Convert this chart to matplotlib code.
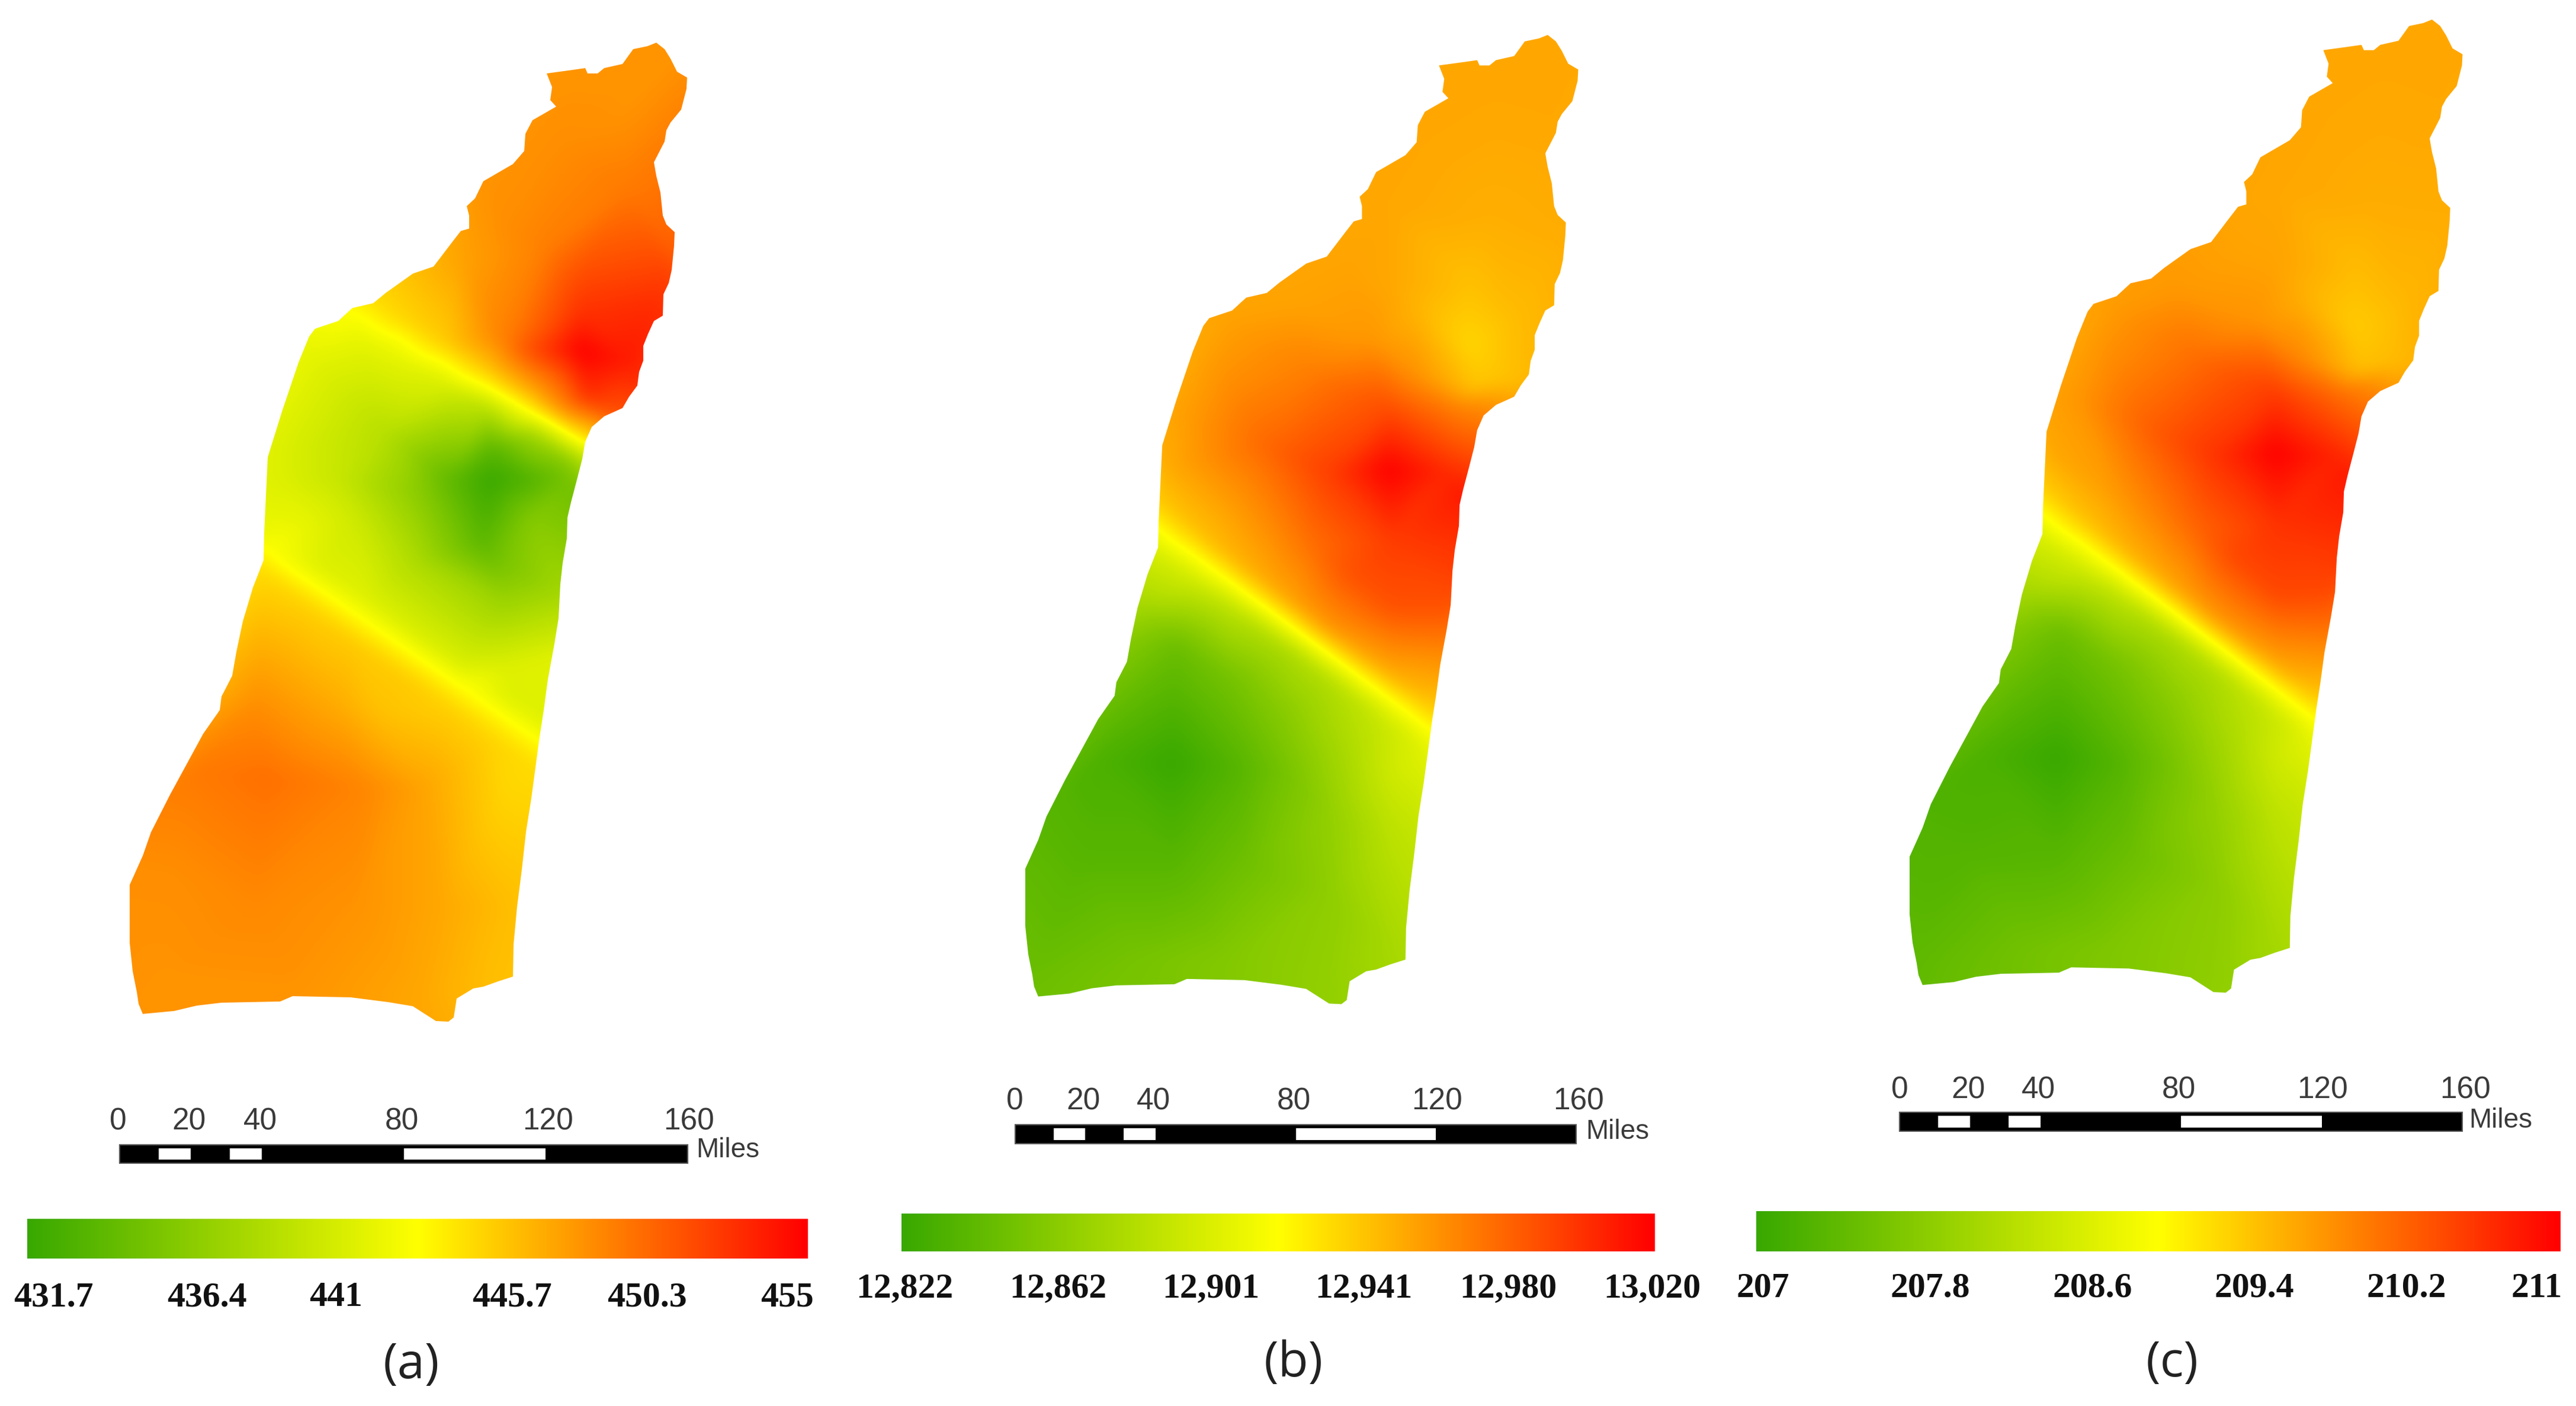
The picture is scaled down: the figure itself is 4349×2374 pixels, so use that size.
import numpy as np
import matplotlib
matplotlib.use("Agg")
import matplotlib.pyplot as plt
import matplotlib.tri as mtri
from matplotlib.colors import LinearSegmentedColormap
from matplotlib.patches import Polygon, Rectangle

W, H = 4349, 2374

# region outline, pixels of panel (a)
outline_x = [1108, 1122, 1132, 1143, 1160, 1159, 1150, 1132, 1125, 1122, 1104, 1108, 1115, 1119, 1125, 1139, 1138, 1134,
             1129, 1120, 1119, 1104, 1094, 1086, 1086, 1079, 1076, 1062, 1051, 1020, 999, 988, 983, 974, 964, 958, 957,
             950, 946, 943, 936, 925, 918, 911, 904, 897, 888, 881, 873, 867, 866, 841, 816, 799, 771, 766, 757, 736,
             697, 655, 592, 494, 473, 374, 332, 294, 241, 234, 231, 224, 219, 219, 241, 255, 287, 318, 343, 371, 374,
             392, 399, 410, 427, 445, 446, 452, 476, 504, 522, 532, 571, 595, 630, 652, 697, 732, 764, 778, 792, 792,
             788, 802, 816, 866, 885, 887, 899, 939, 929, 932, 923, 967, 988, 992, 1009, 1020, 1051, 1069, 1093]
outline_y = [72, 83, 99, 121, 131, 150, 185, 207, 220, 239, 274, 297, 325, 364, 379, 392, 415, 456,
             478, 497, 533, 542, 564, 584, 609, 628, 651, 670, 689, 703, 721, 746, 775, 810, 848, 874, 909,
             950, 986, 1044, 1087, 1147, 1199, 1244, 1296, 1348, 1405, 1468, 1531, 1595, 1649, 1657, 1666, 1669, 1686, 1718, 1725, 1724,
             1699, 1692, 1684, 1682, 1691, 1693, 1698, 1707, 1712, 1695, 1675, 1640, 1592, 1494, 1445, 1405, 1342, 1285, 1239, 1199, 1176,
             1141, 1101, 1049, 992, 946, 900, 772, 695, 612, 568, 555, 542, 520, 512, 494, 462, 450, 408, 390, 386, 364,
             348, 335, 306, 277, 255, 226, 203, 180, 169, 147, 124, 118, 115, 124, 124, 115, 108, 83, 78]

# field samples: x, y in pixels, t = place on the colour ramp (0 green, 1 red)
a_x = [1110, 1050, 950, 1062, 1062, 992, 922, 851, 781, 1122, 1111, 1062, 981, 908, 851, 981, 992, 1027,
       606, 680, 750, 820, 900, 988,
       606, 680, 750, 820, 900, 950,
       606, 680, 750, 820, 900, 960,
       520, 465, 450, 455,
       830, 711, 571, 466, 957, 830, 816, 900, 760, 650, 900, 851, 950, 851, 940, 851, 700, 600, 520,
       452, 540, 620, 700, 780, 860, 901,
       452, 540, 620, 700, 780, 860, 930,
       440, 520, 600, 680, 760, 840, 900,
       452, 641, 571, 431, 851, 711, 606, 851, 746, 606, 431, 290, 290, 501, 711, 816, 325,
       1200, 950, 780, 1200, 1150, 1050, 400, 1000, 1000, 950, 780, 180, 150, 300, 400, 500, 1060, 960]
a_y = [100, 150, 240, 191, 319, 446, 415, 383, 446, 446, 510, 606, 593, 593, 574, 523, 670, 695,
       529, 572, 612, 652, 698, 749,
       494, 537, 577, 617, 663, 690,
       564, 607, 647, 687, 733, 780,
       600, 750, 850, 900,
       810, 829, 810, 810, 810, 752, 917, 810, 810, 730, 880, 957, 1000, 1015, 1060, 1130, 950, 880, 880,
       934, 995, 1050, 1105, 1160, 1216, 1244,
       899, 960, 1015, 1070, 1125, 1181, 1225,
       960, 1025, 1085, 1140, 1195, 1250, 1290,
       1313, 1200, 1187, 1187, 1330, 1330, 1330, 1531, 1531, 1531, 1531, 1474, 1646, 1669, 1686, 1658, 1302,
       50, 50, 250, 500, 750, 850, 800, 1100, 1300, 1700, 1780, 1780, 1450, 1150, 900, 470, 790, 1280]
a_t = [.71, .71, .72, .71, .76, .84, .75, .72, .68, .86, .91, .95, 1, .87, .75, .90, .90, .84,
       .50, .50, .50, .50, .50, .50,
       .56, .58, .60, .62, .66, .72,
       .45, .44, .41, .33, .27, .20,
       .44, .42, .43, .47,
       0, .20, .36, .42, .15, .10, .09, .07, .10, .32, .20, .17, .27, .25, .35, .42, .30, .38, .44,
       .50, .50, .50, .50, .50, .50, .50,
       .44, .42, .42, .41, .41, .42, .42,
       .57, .59, .60, .60, .59, .58, .57,
       .78, .62, .66, .72, .58, .68, .74, .63, .67, .71, .73, .72, .71, .71, .67, .63, .76,
       .71, .70, .70, .85, .80, .12, .43, .43, .56, .60, .66, .71, .72, .60, .50, .50, .50, .50]

# (b) and (c) samples are read in crop coordinates, scaled to pixels below
b_zx = [1350, 1250, 1100, 1000, 900, 1400, 1420, 1185, 1185, 1300, 1100, 1200, 1060, 1230, 1350, 1300, 1000, 950, 1050, 1150,
        990, 1130, 850, 990, 1000, 1170, 1130, 900, 800, 700, 600, 1000, 1130, 700, 800, 1100, 600, 500, 450, 600, 520, 750,
        430, 520, 600, 680, 760, 840, 920, 1000, 1090,
        430, 520, 600, 680, 760, 840, 920, 1000, 1090,
        430, 520, 600, 680, 760, 840, 920, 1000, 1090,
        390, 480, 620, 760, 900, 1000, 1050,
        470, 300, 620, 470, 733, 850, 1000,
        150, 130, 400, 600, 850, 1000, 850, 650, 250,
        1500, 1100, 800, 1500, 1250, 1180, 1150, 1100, 600, 50, 50, 250, 350, 380, 500]
b_zy = [30, 120, 180, 280, 380, 150, 320, 490, 400, 450, 430, 560, 450, 300, 480, 550, 400, 480, 540, 590,
        685, 690, 690, 590, 800, 720, 900, 850, 800, 780, 750, 900, 960, 650, 530, 600, 550, 600, 680, 450, 500, 430,
        775, 818, 856, 894, 932, 970, 1008, 1046, 1090,
        735, 778, 816, 854, 892, 930, 968, 1006, 1050,
        815, 858, 896, 934, 972, 1010, 1048, 1086, 1130,
        900, 960, 1010, 1060, 1120, 1160, 1220,
        1140, 1140, 1150, 1300, 1156, 1220, 1260,
        1320, 1480, 1450, 1450, 1480, 1430, 1350, 1300, 1300,
        0, 0, 300, 500, 750, 1120, 1400, 1600, 1600, 1600, 1250, 950, 737, 600, 350]
b_t = [.67, .67, .67, .67, .68, .67, .66, .58, .62, .63, .63, .62, .65, .655, .64, .63, .67, .70, .72, .75,
       1, .92, .88, .85, .88, .95, .84, .84, .78, .72, .68, .84, .75, .80, .75, .80, .72, .69, .66, .68, .67, .68,
       .50, .50, .50, .50, .50, .50, .50, .50, .50,
       .60, .62, .64, .66, .68, .70, .68, .66, .62,
       .40, .38, .34, .31, .30, .31, .34, .38, .43,
       .27, .13, .16, .22, .30, .38, .36,
       0, .05, .07, .08, .15, .23, .33,
       .10, .13, .16, .19, .23, .28, .22, .14, .08,
       .67, .67, .67, .65, .95, .50, .34, .28, .19, .14, .10, .25, .50, .65, .67]

c_zx = [1350, 1250, 1100, 1000, 900, 1400, 1410, 1180, 1180, 1300, 1090, 1190, 1050, 1220, 1340, 1290, 990, 940, 1040, 1140,
        985, 1130, 840, 985, 995, 1160, 1120, 890, 790, 690, 590, 990, 1120, 690, 790, 1090, 590, 500, 440, 590, 520, 740,
        425, 520, 600, 680, 760, 840, 920, 1000, 1070,
        425, 520, 600, 680, 760, 840, 920, 1000, 1070,
        425, 520, 600, 680, 760, 840, 920, 1000, 1070,
        380, 470, 610, 750, 890, 990, 1040,
        460, 290, 610, 460, 723, 840, 990,
        140, 120, 390, 590, 850, 990, 840, 640, 240,
        1500, 1100, 790, 1490, 1240, 1170, 1140, 1090, 590, 40, 40, 240, 340, 370, 490]
c_zy = [50, 130, 200, 300, 400, 170, 340, 510, 420, 470, 450, 580, 470, 320, 500, 570, 420, 500, 560, 610,
        705, 710, 710, 610, 820, 740, 920, 870, 820, 800, 770, 925, 985, 670, 550, 620, 570, 620, 700, 470, 520, 450,
        800, 846, 885, 924, 963, 1002, 1041, 1080, 1115,
        760, 806, 845, 884, 923, 962, 1001, 1040, 1075,
        840, 886, 925, 964, 1003, 1042, 1081, 1120, 1155,
        925, 985, 1035, 1085, 1145, 1185, 1245,
        1180, 1180, 1190, 1340, 1190, 1250, 1290,
        1350, 1500, 1480, 1480, 1510, 1460, 1380, 1330, 1330,
        20, 20, 320, 520, 770, 1145, 1430, 1620, 1620, 1620, 1280, 980, 760, 620, 370]
c_t = [.67, .67, .67, .67, .68, .67, .66, .60, .63, .64, .64, .63, .66, .66, .65, .64, .68, .71, .74, .78,
       1, .93, .90, .88, .90, .95, .86, .86, .80, .74, .69, .86, .77, .82, .78, .83, .73, .70, .67, .69, .68, .70,
       .50, .50, .50, .50, .50, .50, .50, .50, .50,
       .60, .62, .64, .66, .68, .70, .69, .67, .63,
       .40, .38, .34, .31, .30, .31, .34, .38, .43,
       .27, .13, .16, .22, .30, .38, .36,
       0, .05, .07, .08, .15, .23, .33,
       .07, .10, .15, .18, .22, .28, .21, .13, .07,
       .67, .67, .68, .66, .95, .50, .34, .28, .18, .10, .07, .24, .50, .66, .68]

# colour ramp stops from the legends
ramp_colors = ["#38A800", "#FFFF00", "#FF0000"]

a_ticks = ["431.7", "436.4", "441", "445.7", "450.3", "455"]
b_ticks = ["12,822", "12,862", "12,901", "12,941", "12,980", "13,020"]
c_ticks = ["207", "207.8", "208.6", "209.4", "210.2", "211"]
a_range = (431.7, 455)
b_range = (12822, 13020)
c_range = (207, 211)

scale_labels = ["0", "20", "40", "80", "120", "160"]
scale_stops = [0, 11, 20, 31, 40, 80, 120, 160]

cmap = LinearSegmentedColormap.from_list("ramp", ramp_colors, N=512)

fig = plt.figure(figsize=(W / 100, H / 100), dpi=100, facecolor="white")
ax = fig.add_axes([0, 0, 1, 1])


def blur(z, n):
    k = np.ones(n) / n
    p = n // 2
    z = np.apply_along_axis(lambda r: np.convolve(np.pad(r, p, mode="edge"), k, mode="valid"), 0, z)
    return np.apply_along_axis(lambda r: np.convolve(np.pad(r, p, mode="edge"), k, mode="valid"), 1, z)


def draw_map(px, py, t, vrange, origin, scale):
    # sample points are already in figure pixels, the outline gets moved from panel (a)
    lo, hi = vrange
    vals = lo + np.array(t) * (hi - lo)
    tri = mtri.Triangulation(px, py)
    interp = mtri.LinearTriInterpolator(tri, vals)
    ox = origin[0] + (np.array(outline_x) - 219) * scale[0]
    oy = origin[1] + (np.array(outline_y) - 72) * scale[1]
    xs = np.arange(ox.min() - 6, ox.max() + 6, 2.0)
    ys = np.arange(oy.min() - 6, oy.max() + 6, 2.0)
    gx, gy = np.meshgrid(xs, ys)
    z = interp(gx, gy).filled(np.nan)
    z = np.where(np.isnan(z), np.nanmean(z), z)
    # soften the facets of the triangles
    z = blur(blur(z, 15), 15)
    im = ax.imshow(z, extent=(xs[0], xs[-1], ys[-1], ys[0]), cmap=cmap, vmin=lo, vmax=hi,
                   interpolation="bilinear", aspect="auto")
    patch = Polygon(np.column_stack([ox, oy]), closed=True, transform=ax.transData, fc="none", ec="none")
    ax.add_patch(patch)
    im.set_clip_path(patch)


def draw_scale(x0, x1, y0, y1, label_x, label_y, miles_x, miles_y):
    per_mile = (x1 - x0) / scale_stops[-1]
    ax.add_patch(Rectangle((x0, y0), x1 - x0, y1 - y0, fc="black", ec="#555555", lw=1.5))
    inset = (y1 - y0) * 0.19
    for a, b in [(scale_stops[1], scale_stops[2]), (scale_stops[3], scale_stops[4]), (scale_stops[5], scale_stops[6])]:
        ax.add_patch(Rectangle((x0 + a * per_mile, y0 + inset), (b - a) * per_mile, y1 - y0 - 2 * inset, fc="white", ec="none"))
    for s, lx in zip(scale_labels, label_x):
        ax.text(lx, label_y, s, ha="center", va="center", fontsize=37, family="Liberation Sans", color="#3a3a3a")
    ax.text(miles_x, miles_y, "Miles", ha="left", va="center", fontsize=33, family="Liberation Sans", color="#3a3a3a")


def draw_legend(x0, x1, y0, y1, vrange, ticks, tick_x, tick_y):
    lo, hi = vrange
    grad = np.linspace(lo, hi, 512).reshape(1, -1)
    ax.imshow(grad, extent=(x0, x1, y1, y0), cmap=cmap, vmin=lo, vmax=hi, aspect="auto", interpolation="bilinear")
    for s, tx in zip(ticks, tick_x):
        ax.text(tx, tick_y, s, ha="center", va="center", fontsize=43, family="Liberation Serif",
                fontweight="bold", color="#111111")


# panel (a)
draw_map(a_x, a_y, a_t, a_range, (219, 72), (1.0, 1.0))
draw_scale(202, 1161, 1933, 1964, [199, 319, 439, 678, 925, 1163], 1894, 1175, 1942)
draw_legend(46, 1364, 2058, 2125, a_range, a_ticks, [90, 349, 567, 865, 1092, 1329], 2191)
ax.text(694, 2306, "(a)", ha="center", va="center", fontsize=60, family="Open Sans", color="#222222")

# panel (b)
bx = 1650 + np.array(b_zx) * 1100 / 1568
by = 50 + np.array(b_zy) * 1700 / 1568
draw_map(bx, by, b_t, b_range, (1731, 59), (0.992, 0.99))
draw_scale(1714, 2661, 1899, 1931, [1713, 1829, 1947, 2184, 2426, 2665], 1860, 2677, 1911)
draw_legend(1522, 2794, 2049, 2113, b_range, b_ticks, [1527, 1786, 2044, 2302, 2546, 2789], 2176)
ax.text(2184, 2303, "(b)", ha="center", va="center", fontsize=60, family="Open Sans", color="#222222")

# panel (c)
cx = 3150 + np.array(c_zx) * 1100 / 1568
cy = np.array(c_zy) * 1700 / 1568
draw_map(cx, cy, c_t, c_range, (3224, 33), (0.992, 0.994))
draw_scale(3207, 4157, 1878, 1910, [3207, 3323, 3441, 3678, 3921, 4162], 1841, 4168, 1892)
draw_legend(2965, 4323, 2045, 2113, c_range, c_ticks, [2976, 3259, 3533, 3806, 4063, 4283], 2176)
ax.text(3667, 2303, "(c)", ha="center", va="center", fontsize=60, family="Open Sans", color="#222222")

ax.set_xlim(0, W)
ax.set_ylim(H, 0)
ax.axis("off")

fig.savefig("out.png", dpi=100, facecolor="white")
